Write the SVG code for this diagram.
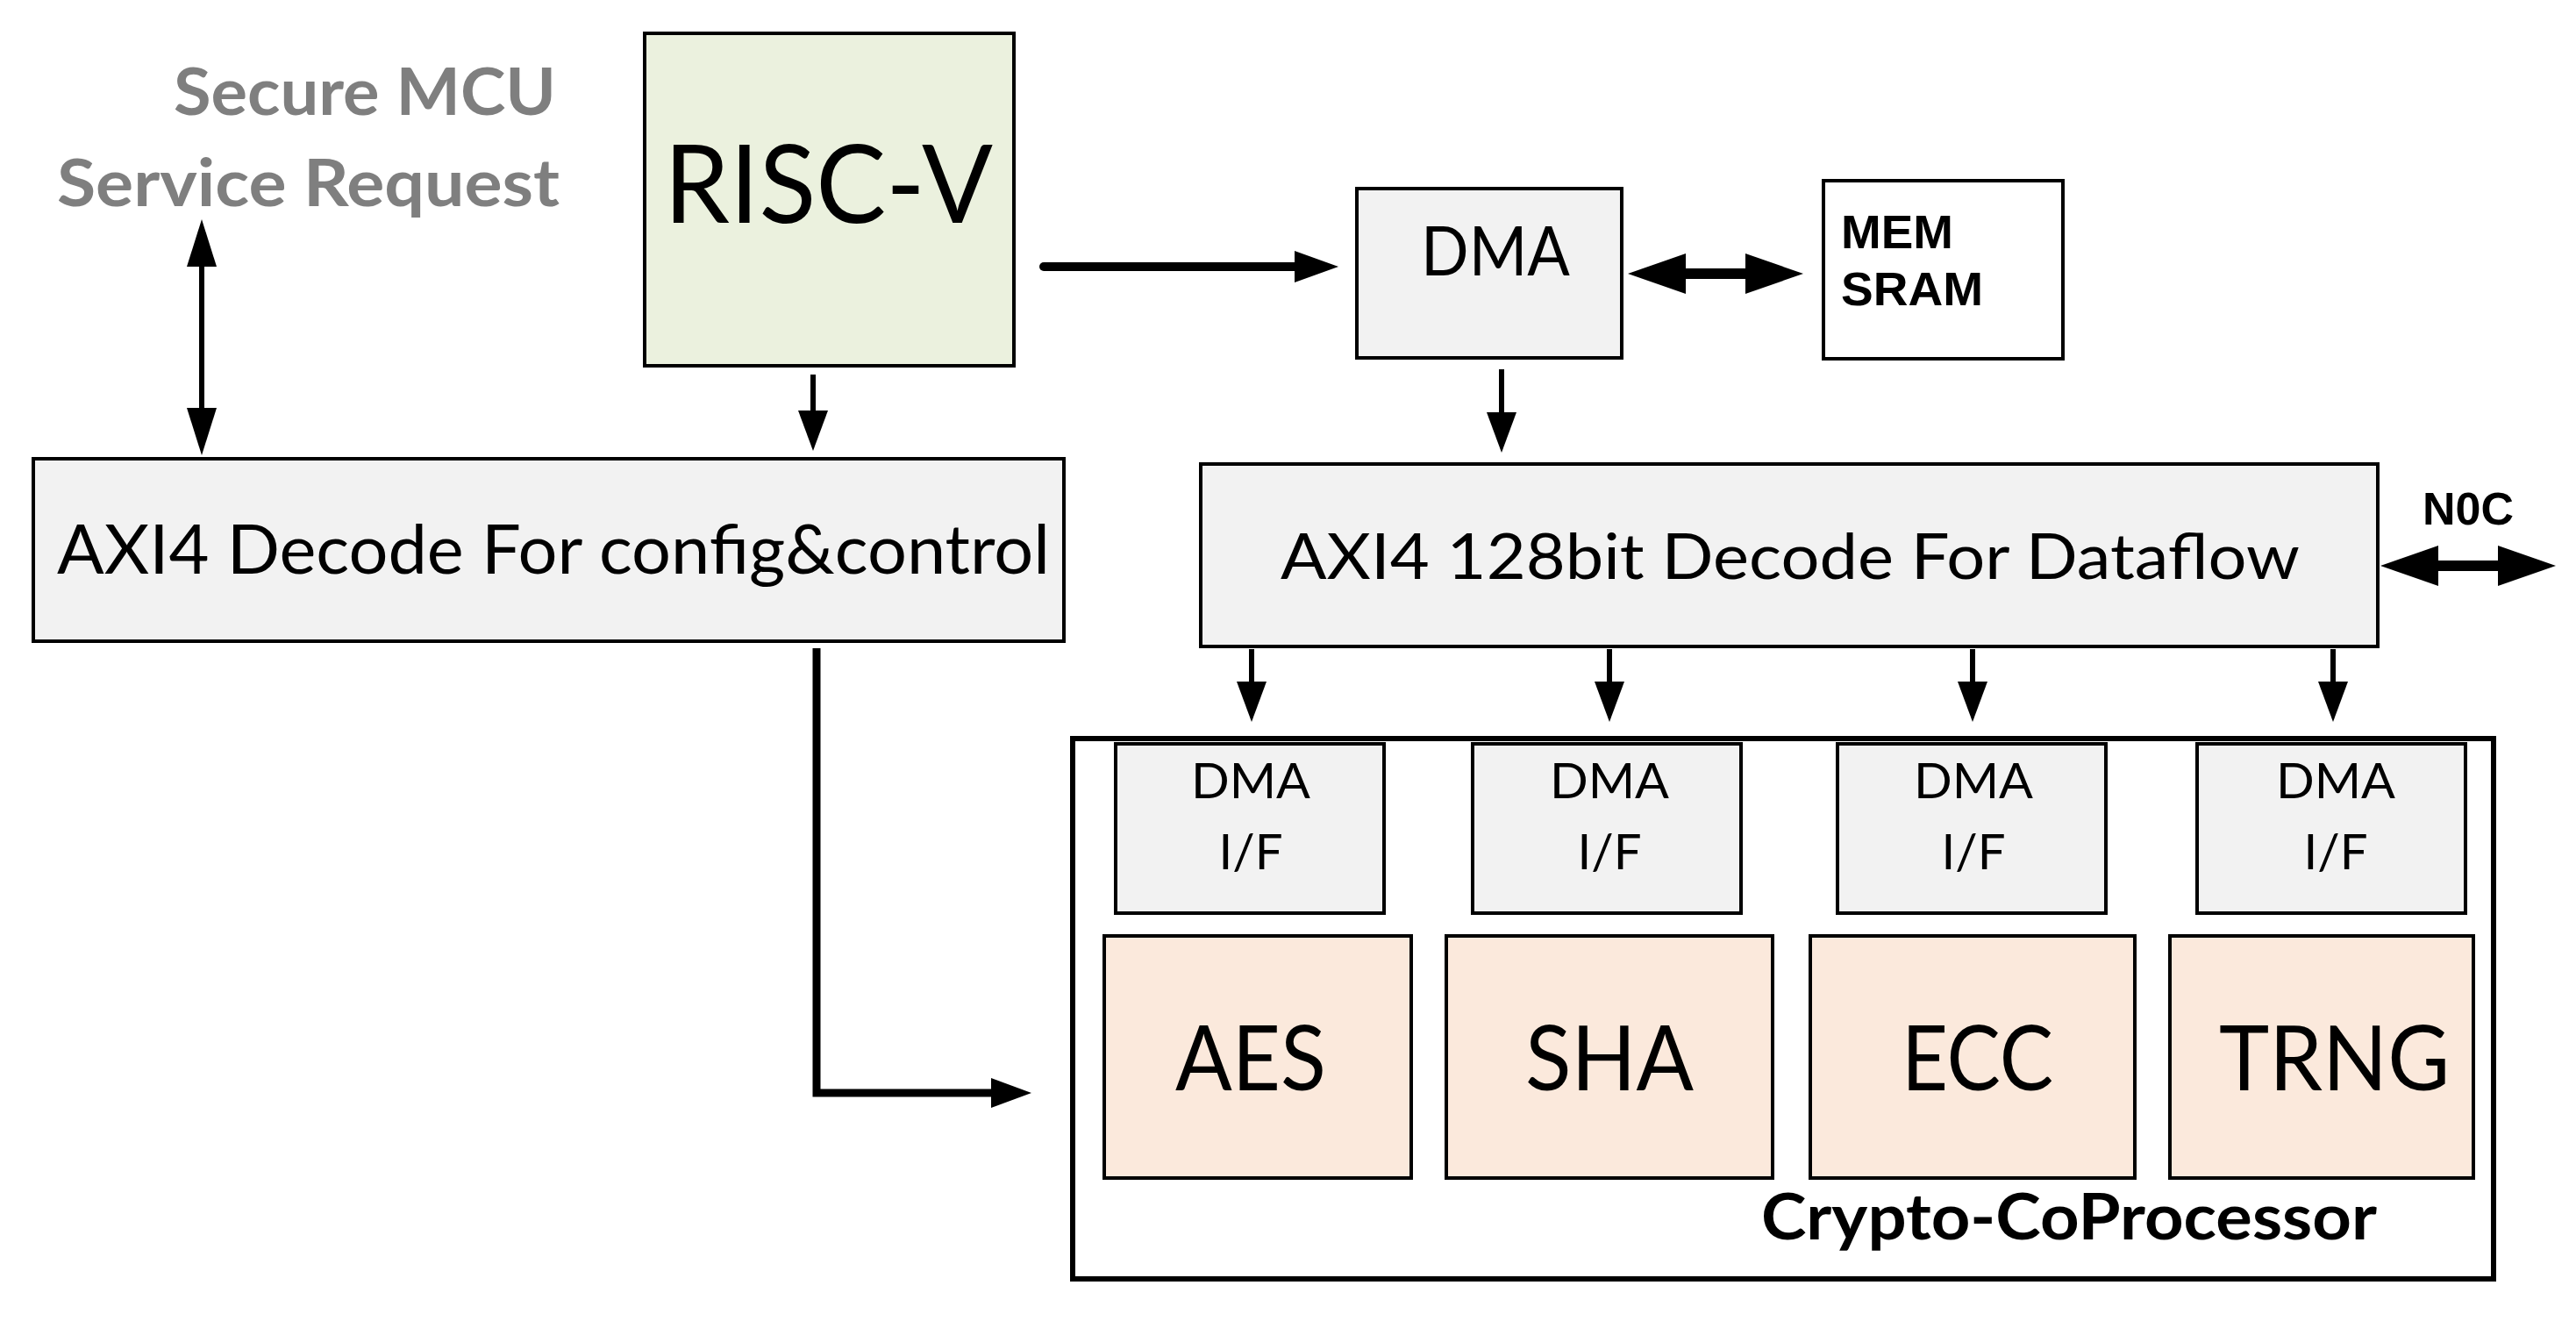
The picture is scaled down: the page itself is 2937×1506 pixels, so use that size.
<svg xmlns="http://www.w3.org/2000/svg" width="2937" height="1506" viewBox="0 0 2937 1506">
<style>
.box{stroke:#000;stroke-width:4}
.gray{fill:#f2f2f2}
.green{fill:#ebf1de}
.peach{fill:#fbe9dc}
.white{fill:#fff}
.t{font-family:Lato,"Open Sans","Noto Sans",sans-serif;fill:#000}
.ta{font-family:"Liberation Sans",Arial,sans-serif;font-weight:bold;fill:#000}
.lbl{font-family:Lato,"Open Sans","Noto Sans",sans-serif;font-weight:bold;fill:#7f7f7f}
.ln{stroke:#000;fill:none}
</style>
<defs>
<marker id="hThin" markerUnits="userSpaceOnUse" markerWidth="60" markerHeight="40" overflow="visible" orient="auto-start-reverse" refX="0" refY="0"><path d="M0,-17 L46,0 L0,17 z" fill="#000"/></marker>
<marker id="hBi" markerUnits="userSpaceOnUse" markerWidth="60" markerHeight="40" overflow="visible" orient="auto-start-reverse" refX="0" refY="0"><path d="M0,-17 L54,0 L0,17 z" fill="#000"/></marker>
<marker id="hMid" markerUnits="userSpaceOnUse" markerWidth="60" markerHeight="40" overflow="visible" orient="auto-start-reverse" refX="0" refY="0"><path d="M0,-18 L50,0 L0,18 z" fill="#000"/></marker>
<marker id="hBig" markerUnits="userSpaceOnUse" markerWidth="80" markerHeight="50" overflow="visible" orient="auto-start-reverse" refX="0" refY="0"><path d="M0,-23 L66,0 L0,23 z" fill="#000"/></marker>
</defs>

<g id="label-secure">
<text class="lbl" x="634" y="131" font-size="74" text-anchor="end" textLength="436" lengthAdjust="spacingAndGlyphs">Secure MCU</text>
<text class="lbl" x="638" y="235" font-size="74" text-anchor="end" textLength="573" lengthAdjust="spacingAndGlyphs">Service Request</text>
</g>

<g id="riscv">
<rect class="box green" x="735" y="38" width="421" height="379"/>
<text class="t" x="757" y="254" font-size="124" textLength="375" lengthAdjust="spacingAndGlyphs">RISC-V</text>
</g>

<g id="axi-config">
<rect class="box gray" x="38" y="523" width="1175" height="208"/>
<text class="t" x="65" y="654" font-size="77" textLength="1132" lengthAdjust="spacingAndGlyphs">AXI4 Decode For config&amp;control</text>
</g>

<g id="dma">
<rect class="box gray" x="1547" y="215" width="302" height="193"/>
<text class="t" x="1620" y="314" font-size="77" textLength="170" lengthAdjust="spacingAndGlyphs">DMA</text>
</g>

<g id="mem-sram">
<rect class="box white" x="2079" y="206" width="273" height="203" stroke-width="5"/>
<text class="ta" x="2099" y="283" font-size="54" textLength="128" lengthAdjust="spacingAndGlyphs">MEM</text>
<text class="ta" x="2099" y="348" font-size="54" textLength="162" lengthAdjust="spacingAndGlyphs">SRAM</text>
</g>

<g id="axi-dataflow">
<rect class="box gray" x="1369" y="529" width="1342" height="208"/>
<text class="t" x="1460" y="660" font-size="72" textLength="1162" lengthAdjust="spacingAndGlyphs">AXI4 128bit Decode For Dataflow</text>
</g>

<g id="noc-label">
<text class="ta" x="2762" y="598" font-size="52" textLength="104" lengthAdjust="spacingAndGlyphs">N0C</text>
</g>

<g id="crypto">
<rect x="1223" y="842" width="1620" height="616" fill="#fff" stroke="#000" stroke-width="6"/>
<text class="t" x="2008" y="1413" font-size="73" font-weight="bold" textLength="702" lengthAdjust="spacingAndGlyphs">Crypto-CoProcessor</text>
</g>

<g id="dmaif-1">
<rect class="box gray" x="1272" y="848" width="306" height="193"/>
<text class="t" x="1426" y="910" font-size="57" text-anchor="middle" textLength="136" lengthAdjust="spacingAndGlyphs">DMA</text>
<text class="t" x="1426" y="991" font-size="57" text-anchor="middle" textLength="73" lengthAdjust="spacingAndGlyphs">I/F</text>
</g>
<g id="dmaif-2">
<rect class="box gray" x="1679" y="848" width="306" height="193"/>
<text class="t" x="1835" y="910" font-size="57" text-anchor="middle" textLength="136" lengthAdjust="spacingAndGlyphs">DMA</text>
<text class="t" x="1835" y="991" font-size="57" text-anchor="middle" textLength="73" lengthAdjust="spacingAndGlyphs">I/F</text>
</g>
<g id="dmaif-3">
<rect class="box gray" x="2095" y="848" width="306" height="193"/>
<text class="t" x="2250" y="910" font-size="57" text-anchor="middle" textLength="136" lengthAdjust="spacingAndGlyphs">DMA</text>
<text class="t" x="2250" y="991" font-size="57" text-anchor="middle" textLength="73" lengthAdjust="spacingAndGlyphs">I/F</text>
</g>
<g id="dmaif-4">
<rect class="box gray" x="2505" y="848" width="306" height="193"/>
<text class="t" x="2663" y="910" font-size="57" text-anchor="middle" textLength="136" lengthAdjust="spacingAndGlyphs">DMA</text>
<text class="t" x="2663" y="991" font-size="57" text-anchor="middle" textLength="73" lengthAdjust="spacingAndGlyphs">I/F</text>
</g>

<g id="aes">
<rect class="box peach" x="1259" y="1067" width="350" height="276"/>
<text class="t" x="1340" y="1243" font-size="102" textLength="172" lengthAdjust="spacingAndGlyphs">AES</text>
</g>
<g id="sha">
<rect class="box peach" x="1649" y="1067" width="372" height="276"/>
<text class="t" x="1739" y="1243" font-size="102" textLength="192" lengthAdjust="spacingAndGlyphs">SHA</text>
</g>
<g id="ecc">
<rect class="box peach" x="2064" y="1067" width="370" height="276"/>
<text class="t" x="2168" y="1243" font-size="102" textLength="173" lengthAdjust="spacingAndGlyphs">ECC</text>
</g>
<g id="trng">
<rect class="box peach" x="2474" y="1067" width="346" height="276"/>
<text class="t" x="2530" y="1243" font-size="102" textLength="263" lengthAdjust="spacingAndGlyphs">TRNG</text>
</g>

<g id="connectors">
<line class="ln" x1="230" y1="304" x2="230" y2="465" stroke-width="6" marker-start="url(#hBi)" marker-end="url(#hBi)"/>
<line class="ln" x1="927" y1="427" x2="927" y2="468" stroke-width="6" marker-end="url(#hThin)"/>
<line class="ln" x1="1190" y1="304" x2="1476" y2="304" stroke-width="10" stroke-linecap="round" marker-end="url(#hMid)"/>
<line class="ln" x1="1922" y1="312" x2="1990" y2="312" stroke-width="12" marker-start="url(#hBig)" marker-end="url(#hBig)"/>
<line class="ln" x1="1712" y1="421" x2="1712" y2="470" stroke-width="6" marker-end="url(#hThin)"/>
<line class="ln" x1="2780" y1="645" x2="2848" y2="645" stroke-width="12" marker-start="url(#hBig)" marker-end="url(#hBig)"/>
<line class="ln" x1="1427" y1="740" x2="1427" y2="777" stroke-width="6" marker-end="url(#hThin)"/>
<line class="ln" x1="1835" y1="740" x2="1835" y2="777" stroke-width="6" marker-end="url(#hThin)"/>
<line class="ln" x1="2249" y1="740" x2="2249" y2="777" stroke-width="6" marker-end="url(#hThin)"/>
<line class="ln" x1="2660" y1="740" x2="2660" y2="777" stroke-width="6" marker-end="url(#hThin)"/>
<path class="ln" d="M931,739 L931,1246 L1130,1246" stroke-width="9" marker-end="url(#hThin)"/>
</g>
</svg>
